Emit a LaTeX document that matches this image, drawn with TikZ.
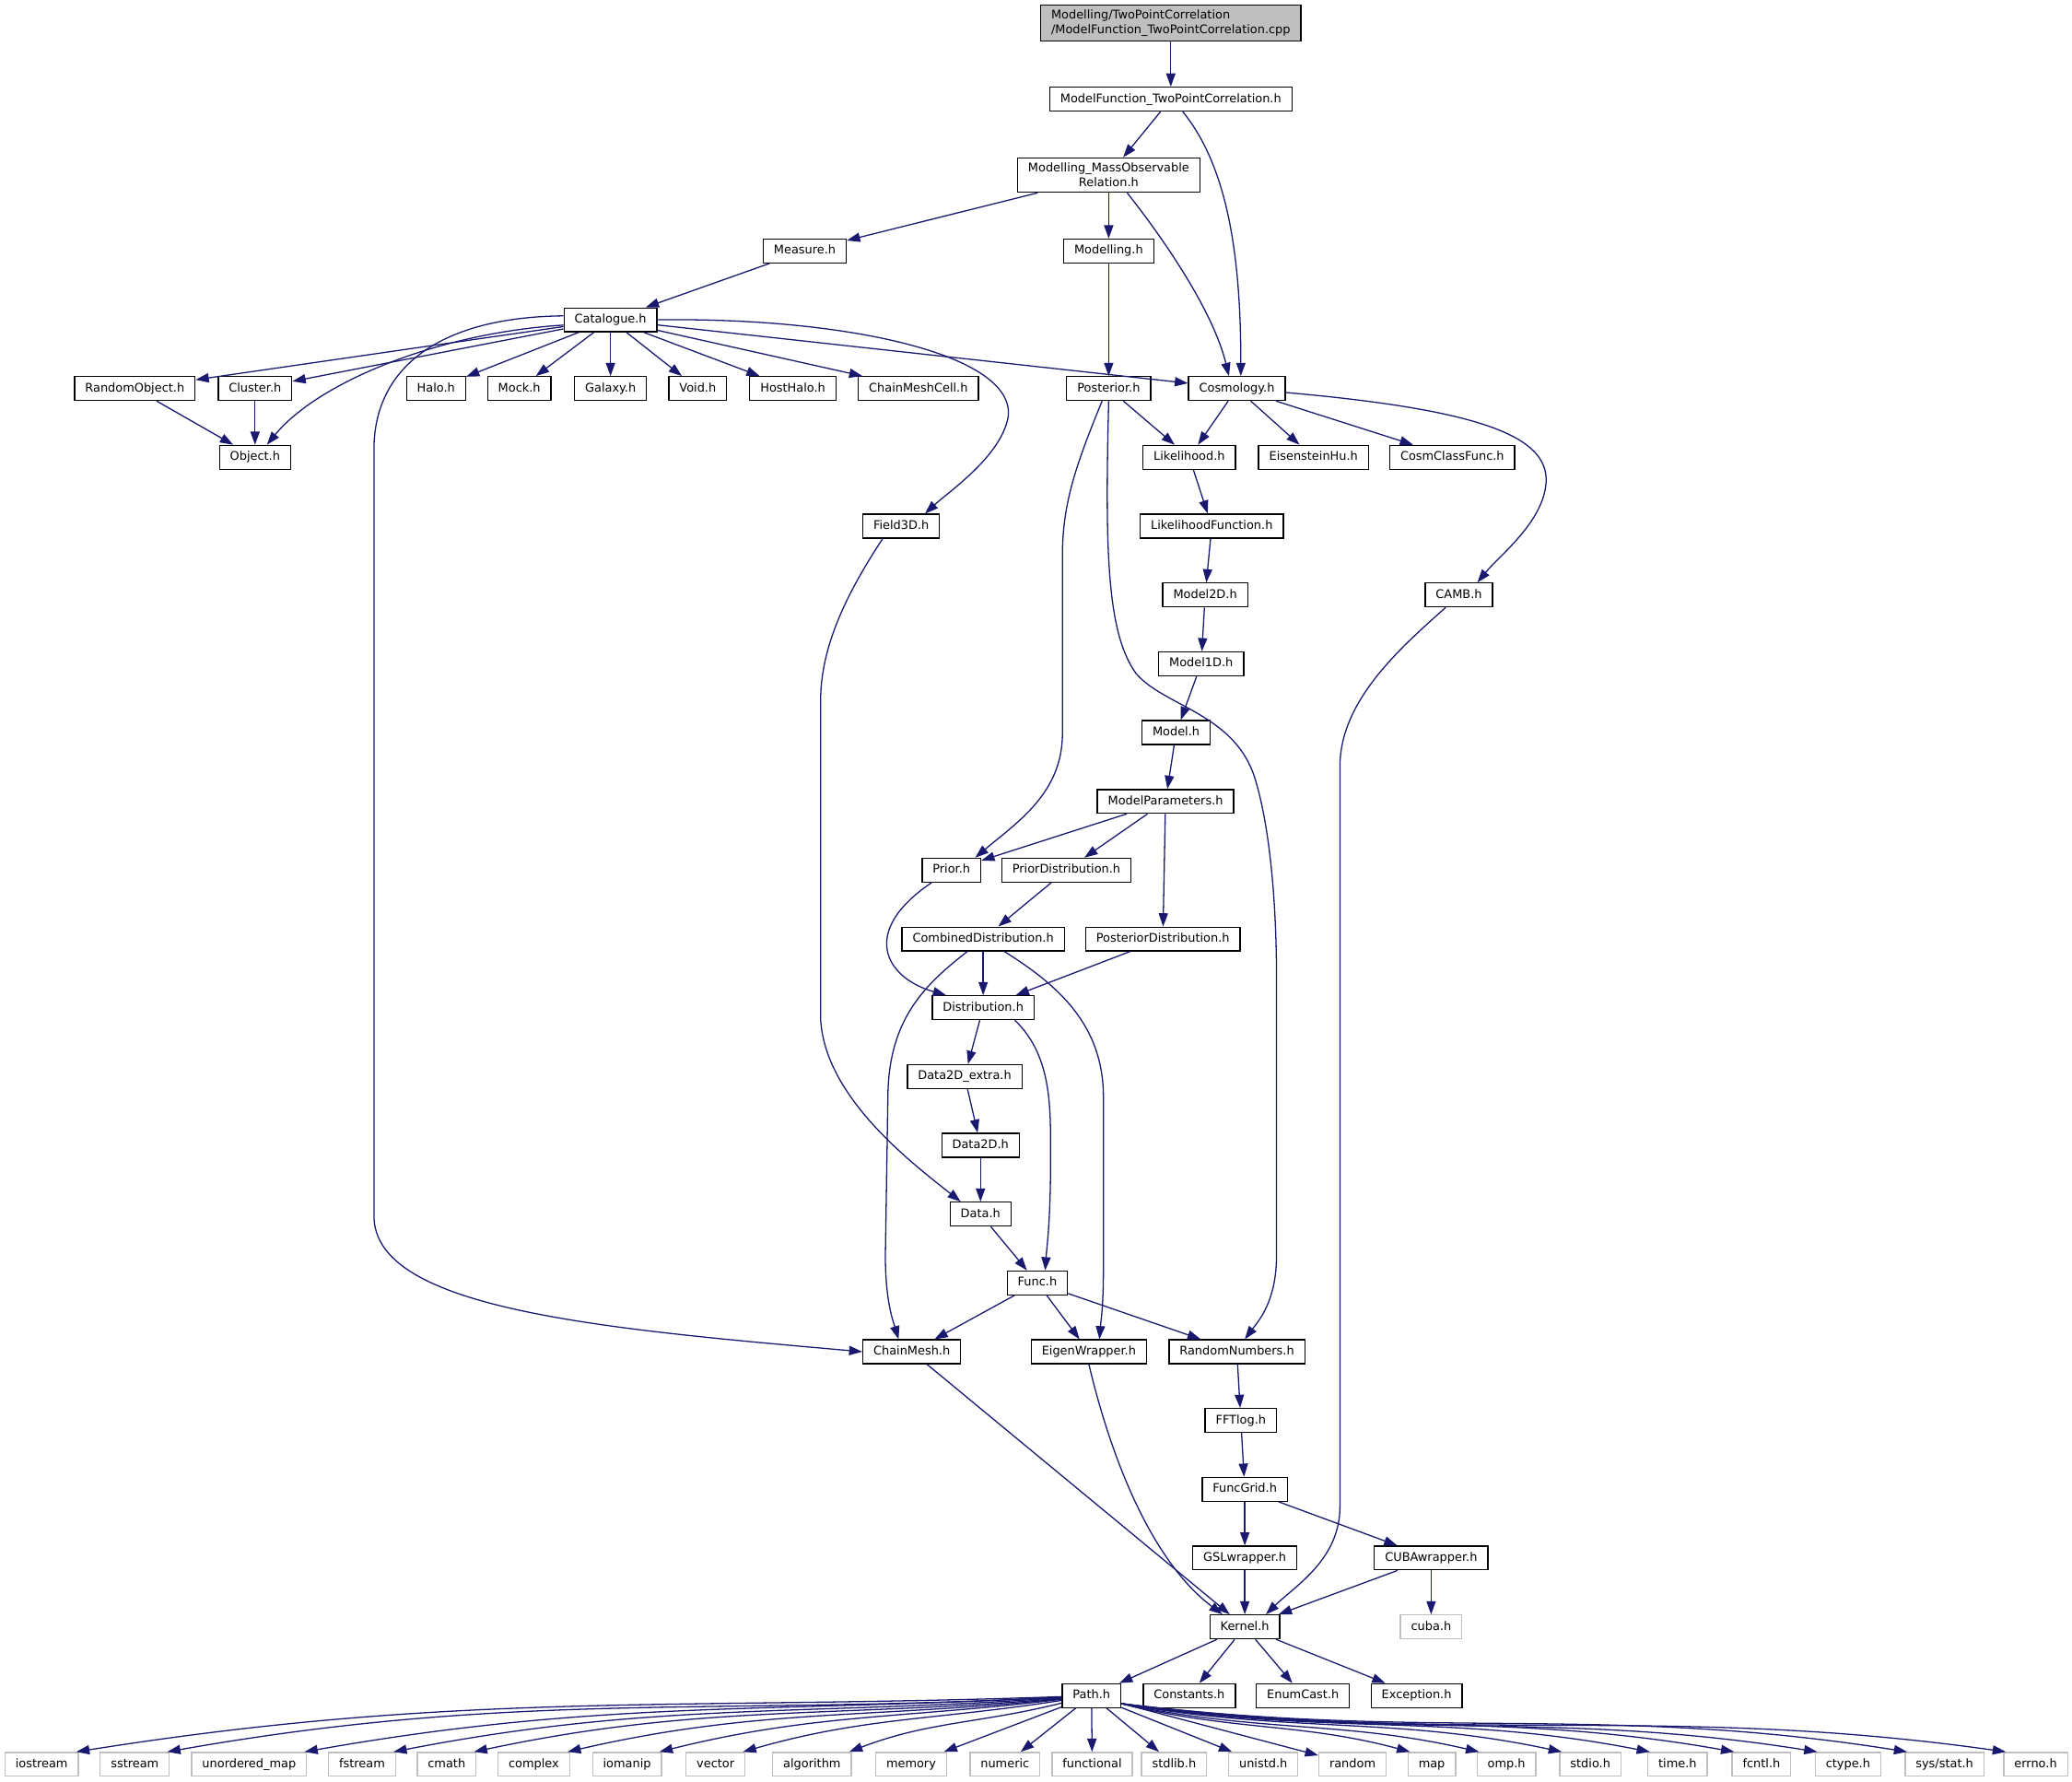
\documentclass[tikz,border=0pt]{standalone}
\usepackage{fontspec}
\setmainfont{DejaVu Sans}
\usetikzlibrary{arrows.meta,calc}
\definecolor{edgec}{HTML}{191970}
\definecolor{greyc}{HTML}{BFBFBF}
\tikzset{
  box/.style={draw=black, line width=0.9pt, fill=white, font=\fontsize{9}{11}\selectfont,
    inner xsep=8pt, inner ysep=0pt, minimum height=18pt, text height=6.8pt, text depth=1.9pt},
  ext/.style={box, draw=greyc},
  boxtwo/.style={draw=black, line width=0.9pt, fill=white, font=\fontsize{9}{11}\selectfont,
    inner xsep=8pt, inner ysep=4pt},
  e/.style={draw=edgec, line width=0.9pt, -{Triangle[length=10pt,width=7pt]}},
}
\begin{document}
\begin{tikzpicture}[x=1pt,y=-1pt]
\fill[white] (0,0) rectangle (1568,1348);
\useasboundingbox (0,0) rectangle (1568,1348);

% ---------- nodes ----------
\node[boxtwo, fill=greyc, align=left, inner ysep=3.5pt] (cpp) at (886,17.5) {Modelling/TwoPointCorrelation\\/ModelFunction\_TwoPointCorrelation.cpp};
\node[box] (mf) at (886,75) {ModelFunction\_TwoPointCorrelation.h};
\node[boxtwo, align=center] (mmor) at (839,132.5) {Modelling\_MassObservable\\Relation.h};
\node[box] (measure) at (609,189.9) {Measure.h};
\node[box] (modelling) at (839,189.9) {Modelling.h};
\node[box] (cat) at (462,242) {Catalogue.h};

\node[box] (randobj) at (102,294) {RandomObject.h};
\node[box] (cluster) at (193,294) {Cluster.h};
\node[box] (halo) at (330,294) {Halo.h};
\node[box] (mock) at (393,294) {Mock.h};
\node[box] (galaxy) at (462,294) {Galaxy.h};
\node[box] (void) at (528,294) {Void.h};
\node[box] (hosthalo) at (600,294) {HostHalo.h};
\node[box] (cmcell) at (695,294) {ChainMeshCell.h};
\node[box] (posterior) at (839,294) {Posterior.h};
\node[box] (cosm) at (936,294) {Cosmology.h};

\node[box] (object) at (193,346) {Object.h};
\node[box] (lik) at (900,346) {Likelihood.h};
\node[box] (eisen) at (994,346) {EisensteinHu.h};
\node[box] (cosmclass) at (1099,346) {CosmClassFunc.h};

\node[box] (field) at (682,398.1) {Field3D.h};
\node[box] (likf) at (917,398.1) {LikelihoodFunction.h};
\node[box] (model2d) at (912,450.2) {Model2D.h};
\node[box] (camb) at (1104,450.2) {CAMB.h};
\node[box] (model1d) at (909,502.3) {Model1D.h};
\node[box] (model) at (890,554.3) {Model.h};
\node[box] (mparams) at (882,606.4) {ModelParameters.h};
\node[box] (prior) at (720,658.4) {Prior.h};
\node[box] (priordist) at (807,658.4) {PriorDistribution.h};
\node[box] (combdist) at (744,710.5) {CombinedDistribution.h};
\node[box] (postdist) at (880,710.5) {PosteriorDistribution.h};
\node[box] (distr) at (744,762.5) {Distribution.h};
\node[box] (dataextra) at (730,814.6) {Data2D\_extra.h};
\node[box] (datatwo) at (742,866.6) {Data2D.h};
\node[box] (data) at (742,918.7) {Data.h};
\node[box] (func) at (785,970.7) {Func.h};
\node[box] (chainmesh) at (690,1022.8) {ChainMesh.h};
\node[box] (eigen) at (824,1022.8) {EigenWrapper.h};
\node[box] (randnum) at (936,1022.8) {RandomNumbers.h};
\node[box] (fftlog) at (939,1074.8) {FFTlog.h};
\node[box] (funcgrid) at (942,1126.9) {FuncGrid.h};
\node[box] (gsl) at (942,1178.9) {GSLwrapper.h};
\node[box] (cubaw) at (1083,1178.9) {CUBAwrapper.h};
\node[box] (kernel) at (942,1231) {Kernel.h};
\node[ext] (cuba) at (1083,1231) {cuba.h};
\node[box] (path) at (826,1283) {Path.h};
\node[box] (constants) at (900,1283) {Constants.h};
\node[box] (enumcast) at (986,1283) {EnumCast.h};
\node[box] (exception) at (1072,1283) {Exception.h};

\foreach \n/\t/\x in {iostream/iostream/31.5, sstream/sstream/102, umap/unordered\_map/188.5,
  fstream/fstream/274, cmath/cmath/338, complex/complex/404, iomanip/iomanip/474.5,
  vector/vector/541.5, algorithm/algorithm/614.5, memory/memory/689.5, numeric/numeric/760.5,
  functional/functional/826.5, stdlib/stdlib.h/888.5, unistd/unistd.h/956, random/random/1023.5,
  map/map/1083.5, omp/omp.h/1140, stdio/stdio.h/1203.5, time/time.h/1269.5, fcntl/fcntl.h/1333,
  ctype/ctype.h/1398.5, sysstat/{sys/stat.h}/1471.5, errno/errno.h/1540.5}
  \node[ext] (\n) at (\x,1335) {\t};

% ---------- straight edges ----------
\foreach \a/\b in {cpp/mf, mf/mmor, mmor/measure, mmor/modelling, measure/cat, modelling/posterior,
  cat/randobj, cat/cluster, cat/halo, cat/mock, cat/galaxy, cat/void, cat/hosthalo, cat/cmcell, cat/cosm,
  randobj/object, cluster/object, posterior/lik, cosm/lik, cosm/eisen, cosm/cosmclass,
  lik/likf, likf/model2d, model2d/model1d, model1d/model, model/mparams,
  mparams/prior, mparams/priordist, mparams/postdist, priordist/combdist, combdist/distr, postdist/distr,
  distr/dataextra, dataextra/datatwo, datatwo/data, data/func,
  func/chainmesh, func/eigen, func/randnum, randnum/fftlog, fftlog/funcgrid, funcgrid/gsl, funcgrid/cubaw,
  gsl/kernel, cubaw/kernel, cubaw/cuba, chainmesh/kernel,
  kernel/path, kernel/constants, kernel/enumcast, kernel/exception,
  path/memory, path/numeric, path/functional, path/stdlib, path/unistd, path/random}
  \draw[e] (\a) -- (\b);

% ---------- curved edges ----------
\draw[e] ($(mf.south)+(9,0)$) .. controls (928,125) and (939,190) .. ($(cosm.north)+(3,0)$);
\draw[e] ($(mmor.south)+(14,0)$) .. controls (880,180) and (918,235) .. ($(cosm.north)+(-6,0)$);
\draw[e] (cat.east) .. controls (640,240) and (768,268) .. (763,315)
   .. controls (758,345) and (718,372) .. ($(field.north)+(18,0)$);
\draw[e] ($(cat.west)+(0,4)$) .. controls (330,252) and (240,290) .. ($(object.north)+(9,0)$);
\draw[e] ($(cat.west)+(0,-3)$) .. controls (330,240) and (283,280) .. (283,340) -- (283,920)
   .. controls (283,990) and (450,1005) .. (chainmesh.west);
\draw[e] ($(posterior.south)+(-5,0)$) .. controls (815,350) and (804,380) .. (804,420) -- (804,555)
   .. controls (804,600) and (770,622) .. ($(prior.north)+(18,0)$);
\draw[e] (posterior.south) .. controls (836,420) and (838,480) .. (860,510)
   .. controls (882,535) and (935,540) .. (950,590)
   .. controls (962,630) and (966,690) .. (966,740) -- (966,950)
   .. controls (966,985) and (952,1000) .. ($(randnum.north)+(6,0)$);
\draw[e] ($(cosm.east)+(0,3)$) .. controls (1120,310) and (1172,330) .. (1170,365)
   .. controls (1168,395) and (1135,420) .. ($(camb.north)+(14,0)$);
\draw[e] ($(camb.south)+(-10,0)$) .. controls (1060,490) and (1014,530) .. (1014,580) -- (1014,1140)
   .. controls (1014,1180) and (980,1200) .. ($(kernel.north)+(16,0)$);
\draw[e] ($(prior.south)+(-15,0)$) .. controls (650,705) and (670,740) .. ($(distr.north)+(-28,0)$);
\draw[e] ($(combdist.south)+(-12,0)$) .. controls (700,745) and (674,770) .. (672,825) -- (670,950)
   .. controls (670,985) and (676,1000) .. ($(chainmesh.north)+(-10,0)$);
\draw[e] ($(combdist.south)+(16,0)$) .. controls (800,745) and (835,775) .. (835,830) -- (835,960)
   .. controls (835,990) and (833,1000) .. ($(eigen.north)+(8,0)$);
\draw[e] ($(distr.south)+(24,0)$) .. controls (797,800) and (795,840) .. (795,880)
   .. controls (795,925) and (792,945) .. ($(func.north)+(6,0)$);
\draw[e] ($(field.south)+(-14,0)$) .. controls (640,450) and (621,490) .. (621,530) -- (621,771)
   .. controls (624,830) and (690,880) .. ($(data.north)+(-15,0)$);
\draw[e] (eigen.south) .. controls (840,1100) and (870,1180) .. ($(kernel.north)+(-17,0)$);

% ---------- Path.h fan ----------
\draw[e] (path) to[out=182,in=9]  ($(iostream.north east)+(-2,0)$);
\draw[e] (path) to[out=183,in=10] ($(sstream.north east)+(-2,0)$);
\draw[e] (path) to[out=183,in=10] ($(umap.north east)+(-2,0)$);
\draw[e] (path) to[out=184,in=11] ($(fstream.north east)+(-2,0)$);
\draw[e] (path) to[out=185,in=12] ($(cmath.north east)+(-2,0)$);
\draw[e] (path) to[out=186,in=13] ($(complex.north east)+(-2,0)$);
\draw[e] (path) to[out=187,in=14] ($(iomanip.north east)+(-2,0)$);
\draw[e] (path) to[out=189,in=16] ($(vector.north east)+(-2,0)$);
\draw[e] (path) to[out=194,in=21] ($(algorithm.north east)+(-2,0)$);
\draw[e] (path.-15) to[out=-14,in=165] ($(map.north west)+(2,0)$);
\draw[e] (path.-15) to[out=-12,in=167] ($(omp.north west)+(2,0)$);
\draw[e] (path.-15) to[out=-10,in=168] ($(stdio.north west)+(2,0)$);
\draw[e] (path.-15) to[out=-9,in=169]  ($(time.north west)+(2,0)$);
\draw[e] (path.-15) to[out=-8,in=170]  ($(fcntl.north west)+(2,0)$);
\draw[e] (path.-15) to[out=-8,in=171]  ($(ctype.north west)+(2,0)$);
\draw[e] (path.-15) to[out=-7,in=171]  ($(sysstat.north west)+(2,0)$);
\draw[e] (path.-15) to[out=-7,in=172]  ($(errno.north west)+(2,0)$);
\end{tikzpicture}
\end{document}
